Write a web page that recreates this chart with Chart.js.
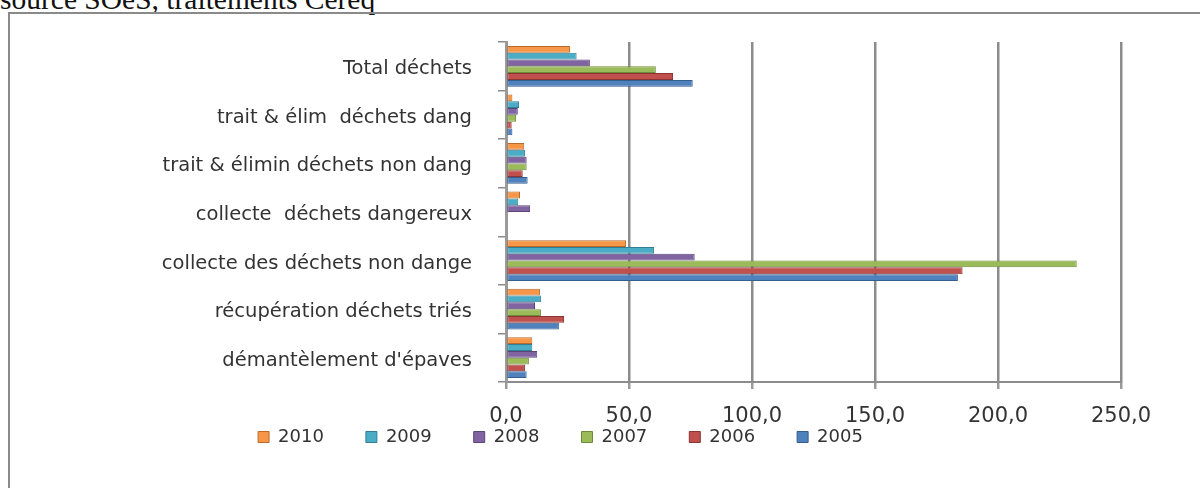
<!DOCTYPE html>
<html>
<head>
<meta charset="utf-8">
<script src="https://cdn.jsdelivr.net/npm/chart.js@4/dist/chart.umd.min.js"></script>
<style>
  html, body { margin: 0; padding: 0; background: #fff; width: 1200px; height: 488px; overflow: hidden; }
  #title { position: absolute; left: 0; top: -15px; font: 29.5px "Liberation Serif", serif; line-height: 29.5px; color: #111; white-space: nowrap; }
  #frame { position: absolute; left: 8px; top: 12px; width: 1300px; height: 600px; border-left: 2px solid #8a8a8a; border-top: 2px solid #8a8a8a; }
  #wrap { position: absolute; left: 0; top: 0; width: 1200px; height: 488px; }
</style>
</head>
<body>
<div id="title">source SOeS, traitements Céreq</div>
<div id="frame"></div>
<div id="wrap"><canvas id="c"></canvas></div>
<script>
const categories = ["Total déchets", "trait & élim  déchets dang", "trait & élimin déchets non dang", "collecte  déchets dangereux", "collecte des déchets non dange", "récupération déchets triés", "démantèlement d'épaves"];
const years = ["2010", "2009", "2008", "2007", "2006", "2005"];
const v2010 = [26.0, 2.6, 7.4, 5.7, 48.8, 13.8, 10.7];
const v2009 = [28.7, 5.3, 7.7, 5.0, 60.2, 14.2, 10.7];
const v2008 = [34.1, 4.8, 8.4, 9.8, 76.7, 11.8, 12.7];
const v2007 = [60.9, 4.1, 8.4, 0, 232.0, 14.2, 9.3];
const v2006 = [67.9, 2.3, 6.8, 0, 185.6, 23.6, 7.7];
const v2005 = [75.9, 2.6, 8.8, 0, 183.7, 21.5, 8.4];
const xTicks = [0, 50, 100, 150, 200, 250];

const colors = ["#F79646", "#4BACC6", "#8064A2", "#9BBB59", "#C0504D", "#4F81BD"];
const borders = ["#B86A2C", "#2F7F95", "#5A4478", "#6F8A3A", "#8C3432", "#355E8E"];
const series = [v2010, v2009, v2008, v2007, v2006, v2005];

const datasets = years.map((y, i) => ({
  label: y,
  data: series[i],
  backgroundColor: colors[i],
  borderColor: borders[i],
  borderWidth: 1,
  borderSkipped: false,
  categoryPercentage: 0.84,
  barPercentage: 1.0
}));

const legendShift = {
  id: 'legendShift',
  afterLayout(chart) {
    const lg = chart.legend;
    if (lg) { lg.top -= 42; lg.bottom -= 42; }
  }
};

new Chart(document.getElementById('c'), {
  type: 'bar',
  data: { labels: categories, datasets },
  plugins: [legendShift],
  options: {
    indexAxis: 'y',
    responsive: true,
    maintainAspectRatio: false,
    animation: false,
    layout: { padding: { top: 42, right: 79, left: 0, bottom: 0 } },
    plugins: {
      tooltip: { enabled: false },
      legend: {
        position: 'bottom',
        maxHeight: 60,
        labels: {
          font: { family: 'DejaVu Sans', size: 18 },
          color: '#333',
          boxWidth: 11,
          boxHeight: 11,
          padding: 42
        }
      }
    },
    scales: {
      x: {
        min: 0,
        max: 250,
        afterBuildTicks: (s) => { s.ticks = xTicks.map(v => ({ value: v })); },
        ticks: {
          font: { family: 'DejaVu Sans', size: 21 },
          color: '#333',
          padding: 15,
          callback: (v) => Number(v).toFixed(1).replace('.', ',')
        },
        grid: { color: '#8c8c8c', lineWidth: 2.5, tickLength: 7, tickColor: '#9a9a9a' },
        border: { color: '#8c8c8c', width: 2 },
        afterFit: (s) => { s.height = 46; }
      },
      y: {
        ticks: {
          font: { family: 'DejaVu Sans', size: 19.5 },
          color: '#333',
          padding: 26,
          labelOffset: 3
        },
        grid: { drawOnChartArea: false, color: '#8c8c8c', tickLength: 8, lineWidth: 1.5 },
        border: { color: '#9a9a9a', width: 3 },
        afterFit: (s) => { s.width = 506; }
      }
    }
  }
});
</script>
</body>
</html>
